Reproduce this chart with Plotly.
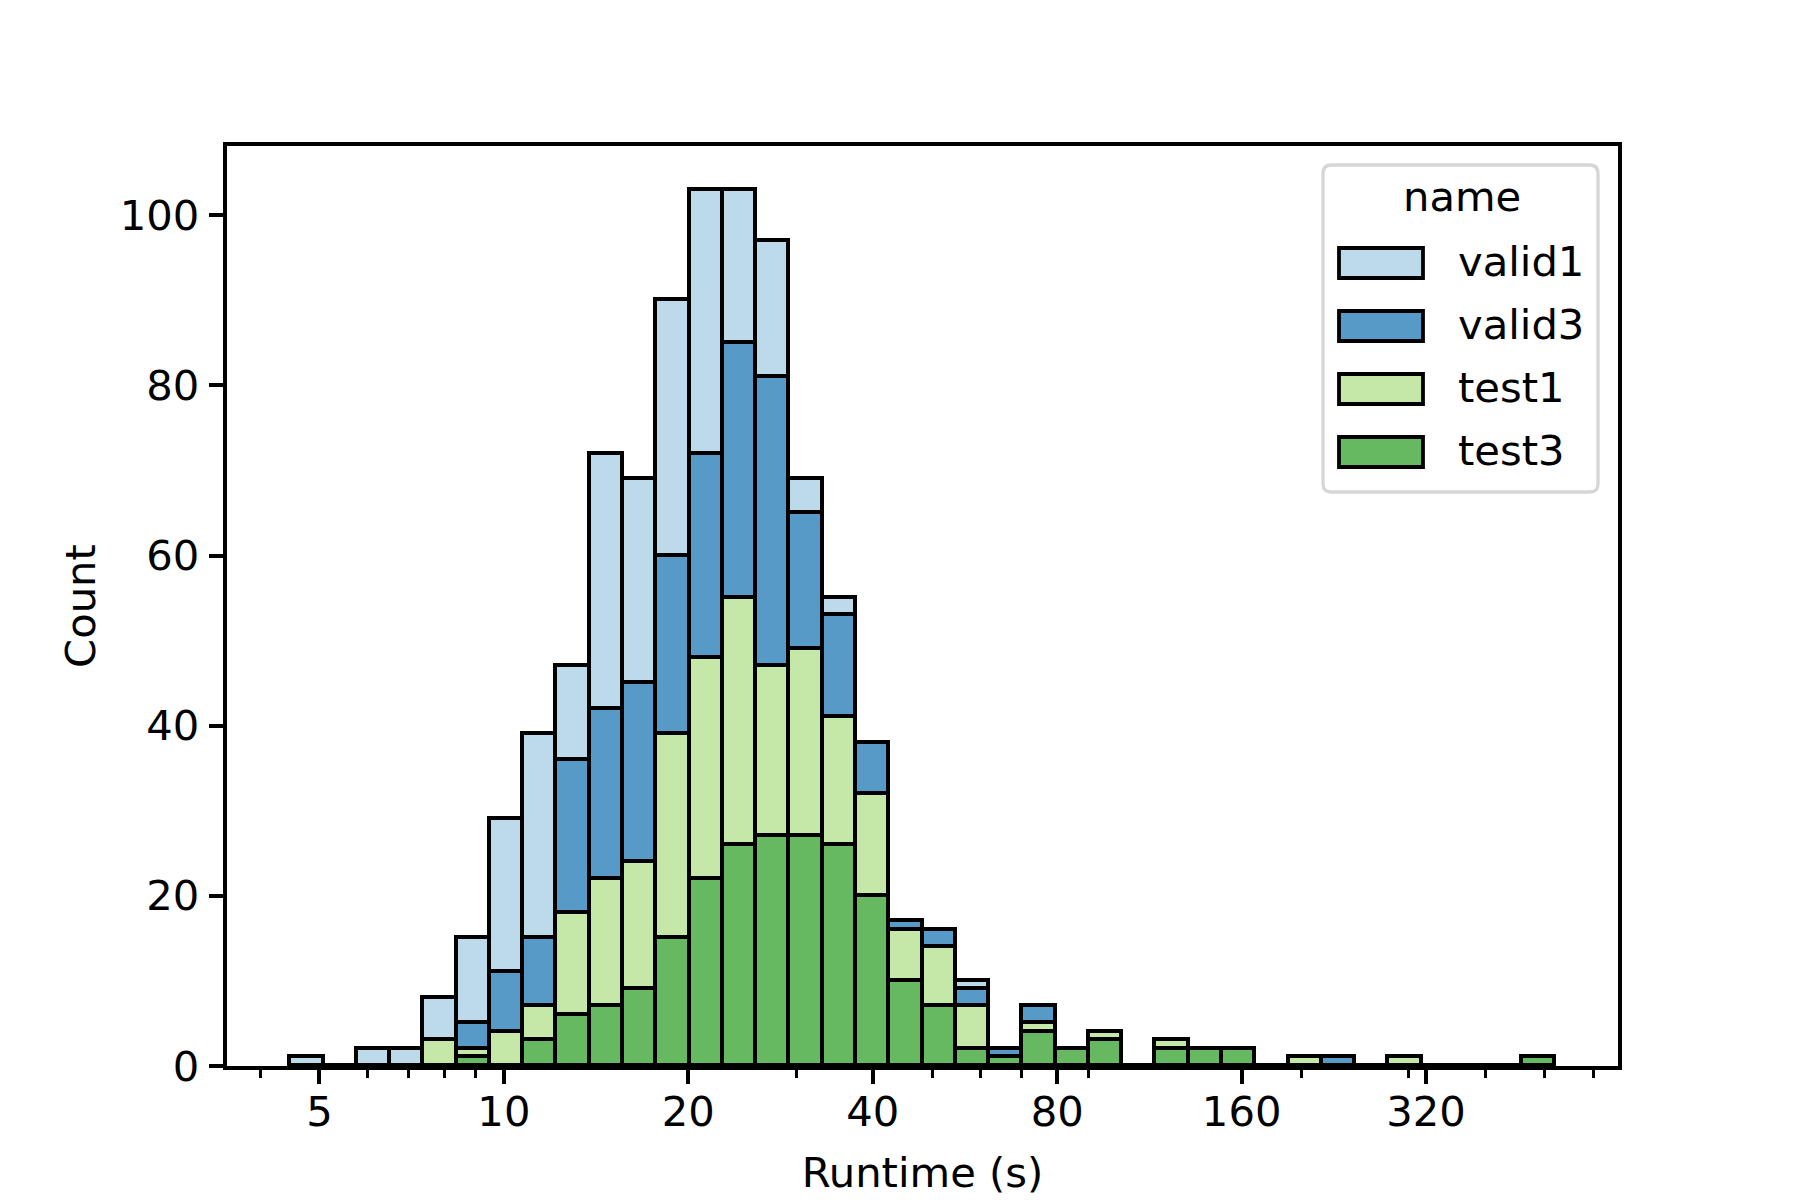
import numpy as np
import plotly.graph_objects as go

# ---------------- data ----------------
names = ["valid1", "valid3", "test1", "test3"]
base_colors = {
    "valid1": (166, 206, 227),
    "valid3": (31, 120, 180),
    "test1": (178, 223, 138),
    "test3": (51, 160, 44),
}
runtime_min = 4.48     # lowest bin edge (s)
runtime_max = 519.0    # highest bin edge (s)
n_bins = 38

valid1 = [1, 0, 2, 2, 5, 10, 18, 24, 11, 30, 24, 30, 31, 18, 16, 4, 2, 0, 0, 0, 1, 0, 0, 0, 0, 0, 0, 0, 0, 0, 0, 0, 0, 0, 0, 0, 0, 0]
valid3 = [0, 0, 0, 0, 0, 3, 7, 8, 18, 20, 21, 21, 24, 30, 34, 16, 12, 6, 1, 2, 2, 1, 2, 0, 0, 0, 0, 0, 0, 0, 0, 1, 0, 0, 0, 0, 0, 0]
test1 = [0, 0, 0, 0, 3, 1, 4, 4, 12, 15, 15, 24, 26, 29, 20, 22, 15, 12, 6, 7, 5, 0, 1, 0, 1, 0, 1, 0, 0, 0, 1, 0, 0, 1, 0, 0, 0, 0]
test3 = [0, 0, 0, 0, 0, 1, 0, 3, 6, 7, 9, 15, 22, 26, 27, 27, 26, 20, 10, 7, 2, 1, 4, 2, 3, 0, 2, 2, 2, 0, 0, 0, 0, 0, 0, 0, 0, 1]
counts = {"valid1": valid1, "valid3": valid3, "test1": test1, "test3": test3}

x_major_ticks = [5, 10, 20, 40, 80, 160, 320]
x_minor_ticks = [4, 6, 7, 8, 9, 30, 50, 60, 70, 90, 200, 300, 400, 500, 600]
y_ticks = [0, 20, 40, 60, 80, 100]

# ---------------- geometry ----------------
W, H = 1800, 1200
L, R, T, B = 227, 182, 146, 134
PW, PH = W - L - R, H - T - B
FS = 41.7
LW = 3.8
ALW = 3.5


def px(x):
    return (x - L) / PW


def py(y):
    return (H - B - y) / PH


def rgba(c, a=0.75):
    return "rgba(%d,%d,%d,%.2f)" % (c[0], c[1], c[2], a)


edges = np.linspace(np.log2(runtime_min), np.log2(runtime_max), n_bins + 1)
centers = (edges[:-1] + edges[1:]) / 2
widths = np.diff(edges)
span = edges[-1] - edges[0]
xrange_ = [edges[0] - 0.05 * span, edges[-1] + 0.05 * span]
totals = np.sum([counts[n] for n in names], axis=0)
yrange_ = [0, 1.05 * totals.max()]

fig = go.Figure()
for n in ["test3", "test1", "valid3", "valid1"]:
    fig.add_trace(go.Bar(
        x=centers, y=counts[n], width=widths, name=n,
        marker=dict(color=rgba(base_colors[n]), line=dict(color="black", width=LW)),
        showlegend=False,
    ))

font = dict(family="DejaVu Sans", size=FS, color="black")
fig.update_layout(
    width=W, height=H, barmode="stack", bargap=0,
    margin=dict(l=L, r=R, t=T, b=B, autoexpand=False),
    plot_bgcolor="white", paper_bgcolor="white",
    font=font,
)
fig.update_xaxes(
    range=xrange_, tickmode="array",
    tickvals=np.log2(x_major_ticks), ticktext=[str(v) for v in x_major_ticks],
    ticks="outside", ticklen=14.6, tickwidth=ALW, tickcolor="black",
    showline=True, linewidth=ALW, linecolor="black", mirror=True,
    showgrid=False, zeroline=False, automargin=False,
    ticklabelstandoff=-8,
    minor=dict(tickvals=list(np.log2(x_minor_ticks)), ticks="outside",
               ticklen=8.3, tickwidth=2.6, tickcolor="black", showgrid=False),
    title=dict(text="Runtime (s)", font=font, standoff=23),
    tickfont=font,
)
fig.update_yaxes(
    range=yrange_, tickmode="array", tickvals=y_ticks,
    ticks="outside", ticklen=14.6, tickwidth=ALW, tickcolor="black",
    showline=True, linewidth=ALW, linecolor="black", mirror=True,
    showgrid=False, zeroline=False, automargin=False,
    ticklabelstandoff=1,
    title=dict(text="Count", font=font, standoff=12),
    tickfont=font,
)

# ---------------- legend (drawn manually to match swatch style) ----------------
x0, x1, y0, y1 = 1323, 1598, 165, 492
r = 8.3
rx, ry = r / PW, r / PH
X0, X1, Y0, Y1 = px(x0), px(x1), py(y1), py(y0)
path = (f"M {X0+rx},{Y0} L {X1-rx},{Y0} Q {X1},{Y0} {X1},{Y0+ry} "
        f"L {X1},{Y1-ry} Q {X1},{Y1} {X1-rx},{Y1} L {X0+rx},{Y1} "
        f"Q {X0},{Y1} {X0},{Y1-ry} L {X0},{Y0+ry} Q {X0},{Y0} {X0+rx},{Y0} Z")
fig.add_shape(type="path", path=path, xref="paper", yref="paper",
              fillcolor="rgba(255,255,255,0.8)", line=dict(color="rgba(204,204,204,0.8)", width=3.3),
              layer="above")
fig.add_annotation(text="name", x=px(1462), y=py(197), xref="paper", yref="paper",
                   showarrow=False, xanchor="center", yanchor="middle", font=font)
for i, n in enumerate(names):
    cy = 263 + 63 * i
    fig.add_shape(type="rect", xref="paper", yref="paper",
                  x0=px(1339), x1=px(1423), y0=py(cy + 15), y1=py(cy - 15),
                  fillcolor=rgba(base_colors[n]), line=dict(color="black", width=LW),
                  layer="above")
    fig.add_annotation(text=n, x=px(1456), y=py(cy - 2), xref="paper", yref="paper",
                       showarrow=False, xanchor="left", yanchor="middle", font=font)

fig.write_html("out.html", config={"displayModeBar": False},
               post_script="document.body.style.margin='0';document.body.style.padding='0';")
